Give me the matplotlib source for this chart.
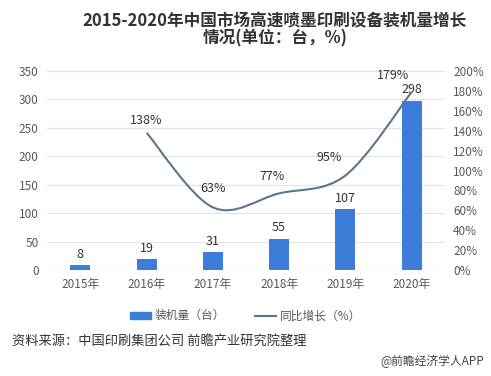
import matplotlib.pyplot as plt
import numpy as np
from matplotlib.path import Path
from matplotlib.patches import PathPatch, Patch
from matplotlib.lines import Line2D

plt.rcParams['font.family'] = ['Noto Sans CJK SC', 'DejaVu Sans']

years = ['2015年', '2016年', '2017年', '2018年', '2019年', '2020年']
installs = [8, 19, 31, 55, 107, 298]
growth_years = [1, 2, 3, 4, 5]
growth = [138, 63, 77, 95, 179]

bar_color = '#3B7DD8'
line_color = '#5A7590'
text_color = '#595959'


# Catmull-Rom -> Bezier for a smooth line (drawing only)
def smooth_path(xs, ys):
    verts = [(xs[0], ys[0])]
    codes = [Path.MOVETO]
    n = len(xs)
    for i in range(n - 1):
        x0, y0 = (xs[i - 1], ys[i - 1]) if i > 0 else (xs[i], ys[i])
        x1, y1 = xs[i], ys[i]
        x2, y2 = xs[i + 1], ys[i + 1]
        x3, y3 = (xs[i + 2], ys[i + 2]) if i + 2 < n else (x2, y2)
        c1 = (x1 + (x2 - x0) / 6, y1 + (y2 - y0) / 6)
        c2 = (x2 - (x3 - x1) / 6, y2 - (y3 - y1) / 6)
        verts += [c1, c2, (x2, y2)]
        codes += [Path.CURVE4] * 3
    return Path(verts, codes)


fig = plt.figure(figsize=(4.91, 3.76), dpi=100)
ax = fig.add_axes([0.096, 0.282, 0.81, 0.529])
x = np.arange(len(years))
ax.bar(x, installs, width=0.3, color=bar_color, zorder=2)
for xi, v in zip(x, installs):
    ax.text(xi, v + 8, str(v), ha='center', va='bottom', fontsize=9, color='#333333')

ax.set_xlim(-0.5, 5.5)
ax.set_ylim(0, 350)
ax.set_yticks(range(0, 351, 50))
ax.set_xticks(x)
ax.set_xticklabels(years)
ax.grid(axis='y', color='#E3E3E3', linewidth=0.8, zorder=0)
for s in ax.spines.values():
    s.set_visible(False)
ax.tick_params(length=0, labelsize=8.5, colors=text_color, pad=6)

ax2 = ax.twinx()
ax2.set_ylim(0, 200)
ax2.set_yticks(range(0, 201, 20))
ax2.set_yticklabels([f'{v}%' for v in range(0, 201, 20)])
for s in ax2.spines.values():
    s.set_visible(False)
ax2.tick_params(length=0, labelsize=8.5, colors=text_color, pad=6)
ax2.add_patch(PathPatch(smooth_path(growth_years, growth), fill=False,
                        edgecolor=line_color, linewidth=1.5, zorder=3))
offsets = [(0, 6), (0, 12), (-0.1, 10), (-0.25, 12), (-0.28, 10)]
for gx, gv, (dx, dy) in zip(growth_years, growth, offsets):
    ax2.text(gx + dx, gv + dy, f'{gv}%', ha='center', va='bottom', fontsize=9, color='#333333')

handles = [Patch(color=bar_color), Line2D([], [], color=line_color, linewidth=1.5)]
fig.legend(handles, ['装机量（台）', '同比增长（%）'], loc='center', bbox_to_anchor=(0.5, 0.16),
           ncol=2, frameon=False, fontsize=8.5, labelcolor=text_color,
           handlelength=1.8, handleheight=0.5, columnspacing=2.5, handletextpad=0.3)

fig.text(0.56, 0.92, '2015-2020年中国市场高速喷墨印刷设备装机量增长\n情况(单位：台，%)',
         ha='center', va='center', fontsize=12, fontweight='bold', color='#333333',
         linespacing=0.95)
fig.text(0.024, 0.093, '资料来源：中国印刷集团公司 前瞻产业研究院整理', ha='left', va='center',
         fontsize=9.5, color='#333333')
fig.text(0.985, 0.04, '@前瞻经济学人APP', ha='right', va='center', fontsize=8.5, color='#444444')

fig.savefig('out.png', dpi=100)
